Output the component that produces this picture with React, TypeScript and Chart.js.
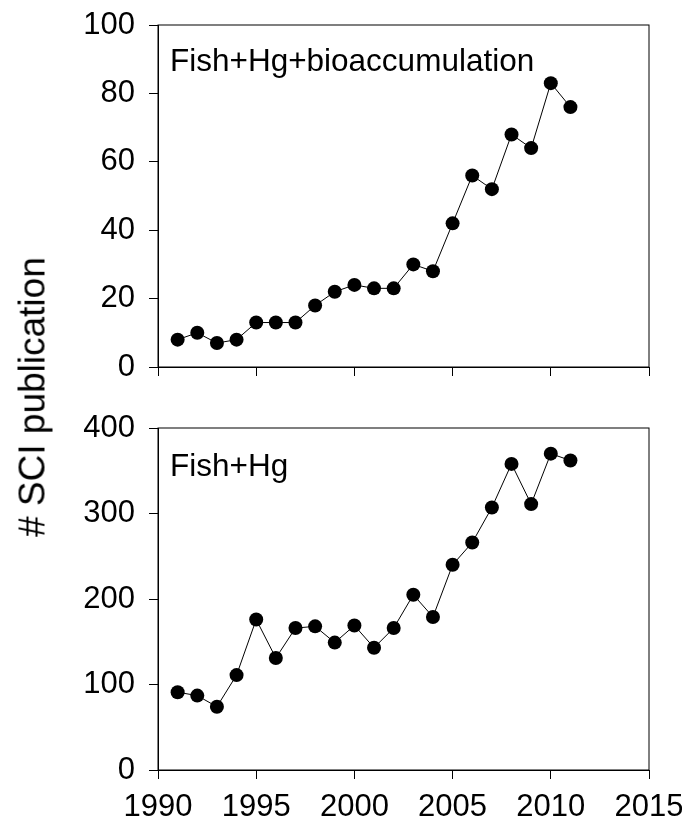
import React, { useEffect, useRef } from "react";
import { Chart, registerables } from "chart.js";

Chart.register(...registerables);

const years = [1991, 1992, 1993, 1994, 1995, 1996, 1997, 1998, 1999, 2000, 2001, 2002, 2003, 2004, 2005, 2006, 2007, 2008, 2009, 2010, 2011];
const bioaccumulation = [8, 10, 7, 8, 13, 13, 13, 18, 22, 24, 23, 23, 30, 28, 42, 56, 52, 68, 64, 83, 76];
const fishHg = [91, 87, 74, 111, 176, 131, 166, 168, 149, 169, 143, 166, 205, 179, 240, 266, 307, 358, 311, 370, 362];
const xTicks = [1990, 1995, 2000, 2005, 2010, 2015];
const topYTicks = [0, 20, 40, 60, 80, 100];
const bottomYTicks = [0, 100, 200, 300, 400];
const topLabel = "Fish+Hg+bioaccumulation";
const bottomLabel = "Fish+Hg";
const yTitle = "# SCI publication";

const FONT = "'Liberation Sans', Arial, Helvetica, sans-serif";

function makeChart(
  canvas: HTMLCanvasElement,
  values: number[],
  yTicks: number[],
  label: string,
  opts: { padTop: number; xHeight: number; showXLabels: boolean; labelDy: number }
) {
  const yMax = yTicks[yTicks.length - 1];
  const panelLabel = {
    id: "panelLabel",
    afterDraw(chart: any) {
      const { ctx, chartArea } = chart;
      ctx.save();
      ctx.strokeStyle = "#000";
      ctx.lineWidth = 1;
      ctx.strokeRect(chartArea.left, chartArea.top, chartArea.right - chartArea.left, chartArea.bottom - chartArea.top);
      ctx.fillStyle = "#000";
      ctx.font = `31.5px ${FONT}`;
      ctx.textBaseline = "middle";
      ctx.textAlign = "left";
      ctx.fillText(label, chartArea.left + 12, chartArea.top + opts.labelDy);
      ctx.restore();
    },
  };
  return new Chart(canvas, {
    type: "line",
    data: {
      datasets: [
        {
          data: years.map((y, i) => ({ x: y, y: values[i] })),
          borderColor: "#000",
          borderWidth: 1,
          pointRadius: 7,
          pointBackgroundColor: "#000",
          pointBorderWidth: 0,
          tension: 0,
        },
      ],
    },
    options: {
      responsive: false,
      animation: false,
      layout: { padding: { left: 0, right: 33, top: opts.padTop, bottom: 0 } },
      plugins: { legend: { display: false }, tooltip: { enabled: false } },
      scales: {
        x: {
          type: "linear",
          min: xTicks[0],
          max: xTicks[xTicks.length - 1],
          afterBuildTicks: (scale: any) => {
            scale.ticks = xTicks.map((v) => ({ value: v }));
          },
          afterFit: (scale: any) => {
            scale.height = opts.xHeight;
            scale.paddingLeft = 0;
            scale.paddingRight = 0;
          },
          grid: { drawOnChartArea: false, drawTicks: true, tickLength: 9, color: "#000", lineWidth: 1 },
          border: { color: "#000", width: 1 },
          ticks: {
            display: opts.showXLabels,
            color: "#000",
            padding: 10,
            font: { family: FONT, size: 31 },
            callback: (v: any) => String(v),
            maxRotation: 0,
          },
        },
        y: {
          type: "linear",
          min: 0,
          max: yMax,
          afterBuildTicks: (scale: any) => {
            scale.ticks = yTicks.map((v) => ({ value: v }));
          },
          afterFit: (scale: any) => {
            scale.width = 158;
            scale.paddingTop = 0;
            scale.paddingBottom = 0;
          },
          grid: { drawOnChartArea: false, drawTicks: true, tickLength: 9, color: "#000", lineWidth: 1 },
          border: { color: "#000", width: 1 },
          ticks: {
            color: "#000",
            padding: 14,
            font: { family: FONT, size: 31 },
            callback: (v: any) => String(v),
          },
        },
      },
    },
    plugins: [panelLabel],
  } as any);
}

export default function App() {
  const topRef = useRef<HTMLCanvasElement>(null);
  const bottomRef = useRef<HTMLCanvasElement>(null);

  useEffect(() => {
    const c1 = makeChart(topRef.current!, bioaccumulation, topYTicks, topLabel, { padTop: 25, xHeight: 33, showXLabels: false, labelDy: 37 });
    const c2 = makeChart(bottomRef.current!, fishHg, bottomYTicks, bottomLabel, { padTop: 28, xHeight: 52, showXLabels: true, labelDy: 39 });
    return () => {
      c1.destroy();
      c2.destroy();
    };
  }, []);

  return (
    <div style={{ position: "absolute", left: 0, top: 0, width: 682, height: 822, background: "#fff", overflow: "hidden" }}>
      <canvas ref={topRef} width={682} height={400} style={{ position: "absolute", left: 0, top: 0, width: 682, height: 400 }} />
      <canvas ref={bottomRef} width={682} height={422} style={{ position: "absolute", left: 0, top: 400, width: 682, height: 422 }} />
      <div
        style={{
          position: "absolute",
          left: 32,
          top: 397,
          transform: "translate(-50%, -50%) rotate(-90deg)",
          whiteSpace: "nowrap",
          fontFamily: FONT,
          fontSize: 37,
          lineHeight: 1,
          color: "#000",
        }}
      >
        {yTitle}
      </div>
    </div>
  );
}
